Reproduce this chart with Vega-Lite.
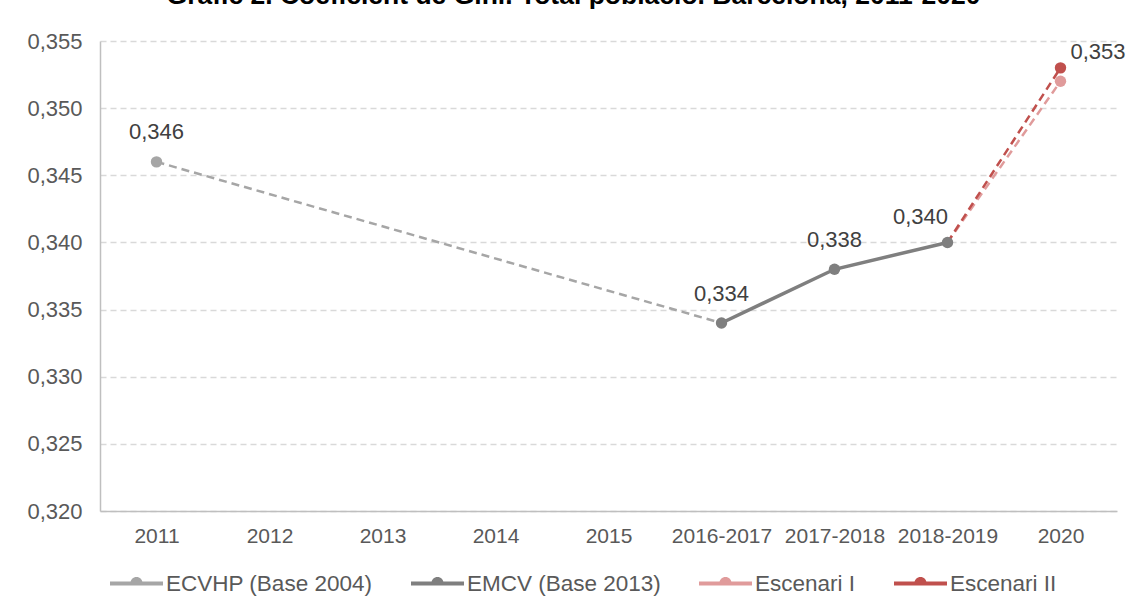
{
  "$schema": "https://vega.github.io/schema/vega-lite/v6.json",
  "autosize": "none",
  "width": 1017,
  "height": 470,
  "padding": {"left": 100, "top": 41, "right": 15, "bottom": 88},
  "background": "white",
  "title": {
    "text": "Gràfic 2. Coeficient de Gini. Total població. Barcelona, 2011-2020",
    "font": "Liberation Sans",
    "fontSize": 26.5,
    "fontWeight": "bold",
    "color": "#000000",
    "anchor": "middle",
    "frame": "group",
    "dx": -35,
    "offset": 0,
    "baseline": "alphabetic",
    "dy": 0
  },
  "config": {
    "locale": {"number": {"decimal": ",", "thousands": ".", "grouping": [3], "currency": ["", " €"]}},
    "view": {"stroke": null},
    "font": "Liberation Sans"
  },
  "data": {
    "values": [
      {"series": "ECVHP (Base 2004)", "period": "2011", "value": 0.346},
      {"series": "ECVHP (Base 2004)", "period": "2016-2017", "value": 0.334},
      {"series": "EMCV (Base 2013)", "period": "2016-2017", "value": 0.334},
      {"series": "EMCV (Base 2013)", "period": "2017-2018", "value": 0.338},
      {"series": "EMCV (Base 2013)", "period": "2018-2019", "value": 0.340},
      {"series": "Escenari I", "period": "2018-2019", "value": 0.340},
      {"series": "Escenari I", "period": "2020", "value": 0.352},
      {"series": "Escenari II", "period": "2018-2019", "value": 0.340},
      {"series": "Escenari II", "period": "2020", "value": 0.353}
    ]
  },
  "encoding": {
    "x": {
      "field": "period",
      "type": "ordinal",
      "sort": null,
      "scale": {"type": "point", "padding": 0.5, "domain": ["2011", "2012", "2013", "2014", "2015", "2016-2017", "2017-2018", "2018-2019", "2020"]},
      "axis": {
        "title": null,
        "labelAngle": 0,
        "labelFont": "Liberation Sans",
        "labelFontSize": 21,
        "labelColor": "#595959",
        "labelPadding": 14,
        "ticks": false,
        "grid": false,
        "domainColor": "#bfbfbf",
        "domainWidth": 1.5
      }
    },
    "y": {
      "field": "value",
      "type": "quantitative",
      "scale": {"domain": [0.32, 0.355], "nice": false, "zero": false},
      "axis": {
        "title": null,
        "values": [0.32, 0.325, 0.33, 0.335, 0.34, 0.345, 0.35, 0.355],
        "format": ".3f",
        "labelFont": "Liberation Sans",
        "labelFontSize": 22,
        "labelColor": "#595959",
        "labelPadding": 18,
        "ticks": false,
        "domainColor": "#bfbfbf",
        "domainWidth": 1.5,
        "gridColor": "#d9d9d9",
        "gridWidth": 1.5,
        "gridDash": [6, 4]
      }
    }
  },
  "layer": [
    {
      "transform": [{"filter": "datum.series == 'ECVHP (Base 2004)'"}],
      "mark": {"type": "line", "color": "#a6a6a6", "strokeWidth": 2.5, "strokeDash": [8, 5]}
    },
    {
      "transform": [{"filter": "datum.series == 'Escenari I'"}],
      "mark": {"type": "line", "color": "#e09b9b", "strokeWidth": 2.5, "strokeDash": [8, 5]}
    },
    {
      "transform": [{"filter": "datum.series == 'Escenari II'"}],
      "mark": {"type": "line", "color": "#c0504d", "strokeWidth": 2.5, "strokeDash": [8, 5]}
    },
    {
      "transform": [{"filter": "datum.series == 'EMCV (Base 2013)'"}],
      "mark": {"type": "line", "color": "#7f7f7f", "strokeWidth": 3.5}
    },
    {
      "transform": [
        {"filter": "!(datum.series == 'ECVHP (Base 2004)' && datum.period == '2016-2017') && !(indexof(datum.series, 'Escenari') == 0 && datum.period == '2018-2019')"}
      ],
      "mark": {"type": "point", "filled": true, "opacity": 1, "size": 130},
      "encoding": {
        "color": {
          "field": "series",
          "type": "nominal",
          "scale": {
            "domain": ["ECVHP (Base 2004)", "EMCV (Base 2013)", "Escenari I", "Escenari II"],
            "range": ["#a6a6a6", "#7f7f7f", "#e09b9b", "#c0504d"]
          },
          "legend": {
            "title": null,
            "orient": "none",
            "legendX": 10,
            "legendY": 516,
            "direction": "horizontal",
            "columns": 4,
            "columnPadding": 38,
            "padding": 0,
            "labelFont": "Liberation Sans",
            "labelFontSize": 22.5,
            "labelColor": "#595959",
            "labelOffset": 3,
            "labelLimit": 0,
            "symbolType": "M-1,-0.08L1,-0.08L1,0.08L-1,0.08Z M-0.23,-0.02A0.23,0.23 0 0,1 0.23,-0.02L0.23,0L-0.23,0Z",
            "symbolSize": 2809,
            "symbolStrokeWidth": 0
          }
        }
      }
    },
    {
      "transform": [{"filter": "datum.series != 'ECVHP (Base 2004)' && datum.period != '2018-2019' && datum.period != '2020'"}],
      "mark": {"type": "text", "font": "Liberation Sans", "fontSize": 22, "color": "#404040", "baseline": "middle", "dy": -29},
      "encoding": {"text": {"field": "value", "type": "quantitative", "format": ".3f"}}
    },
    {
      "transform": [{"filter": "datum.series == 'ECVHP (Base 2004)' && datum.period == '2011'"}],
      "mark": {"type": "text", "font": "Liberation Sans", "fontSize": 22, "color": "#404040", "baseline": "middle", "dy": -30},
      "encoding": {"text": {"field": "value", "type": "quantitative", "format": ".3f"}}
    },
    {
      "transform": [{"filter": "datum.series == 'EMCV (Base 2013)' && datum.period == '2018-2019'"}],
      "mark": {"type": "text", "font": "Liberation Sans", "fontSize": 22, "color": "#404040", "baseline": "middle", "dx": -27, "dy": -25},
      "encoding": {"text": {"field": "value", "type": "quantitative", "format": ".3f"}}
    },
    {
      "transform": [{"filter": "datum.series == 'Escenari II' && datum.period == '2020'"}],
      "mark": {"type": "text", "font": "Liberation Sans", "fontSize": 22, "color": "#404040", "baseline": "middle", "align": "left", "dx": 10, "dy": -16},
      "encoding": {"text": {"field": "value", "type": "quantitative", "format": ".3f"}}
    }
  ]
}
